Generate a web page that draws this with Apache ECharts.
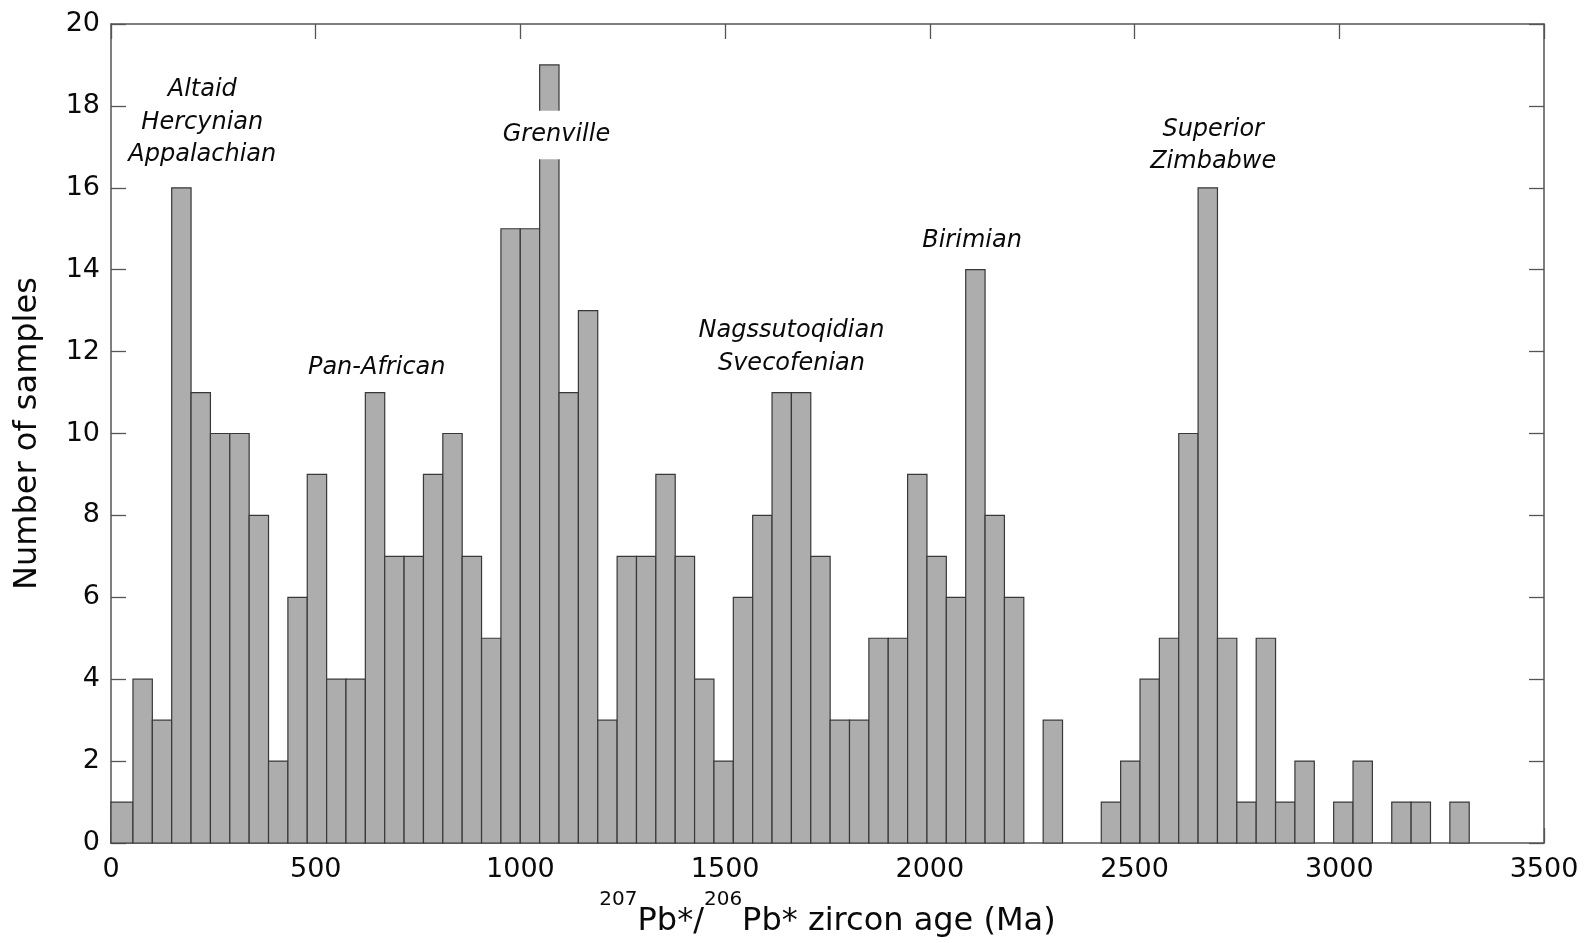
<!DOCTYPE html>
<html>
<head>
<meta charset="utf-8">
<script src="https://cdn.jsdelivr.net/npm/echarts@6/dist/echarts.min.js"></script>
<style>
html,body{margin:0;padding:0;background:#fff;}
#c{width:1587px;height:943px;}
</style>
</head>
<body>
<div id="c"></div>
<script>
// Histogram counts, one per age bin (left to right)
const counts = [
  1, 4, 3, 16, 11, 10, 10, 8, 2, 6,
  9, 4, 4, 11, 7, 7, 9, 10, 7, 5,
  15, 15, 19, 11, 13, 3, 7, 7, 9, 7,
  4, 2, 6, 8, 11, 11, 7, 3, 3, 5,
  5, 9, 7, 6, 14, 8, 6, 0, 3, 0,
  0, 1, 2, 4, 5, 10, 16, 5, 1, 5,
  1, 2, 0, 1, 2, 0, 1, 1, 0, 1
];
// Bin layout (Ma)
const BIN_START = 6.35;
const BIN_WIDTH = 47.3;
const X_MIN = 0, X_MAX = 3500, X_STEP = 500;
const Y_MIN = 0, Y_MAX = 20, Y_STEP = 2;

// Orogeny annotations (data coordinates: age in Ma, count)
const annoText = [
  'Altaid\nHercynian\nAppalachian',
  'Pan-African',
  'Grenville',
  'Nagssutoqidian\nSvecofenian',
  'Birimian',
  'Superior\nZimbabwe'
];
const annoX = [223, 649, 1088, 1662, 2103, 2692];
const annoY = [17.59, 11.61, 17.29, 12.10, 14.70, 17.03];

const FONT = 'DejaVu Sans';
const AXIS_COLOR = '#555555';
const TEXT_COLOR = '#0a0a0a';

const barData = counts.map((c, i) => [
  i === 0 ? X_MIN : BIN_START + i * BIN_WIDTH,
  BIN_START + (i + 1) * BIN_WIDTH,
  c
]).filter(d => d[2] > 0);

const annoData = annoText.map((t, i) => {
  const item = { value: [annoX[i], annoY[i]], label: { formatter: t } };
  if (t === 'Grenville') {
    item.label.backgroundColor = '#ffffff';
    item.label.padding = [8, 4, 8, 4];
  }
  return item;
});

const axisLineStyle = { color: AXIS_COLOR, width: 1.5 };
const tickStyle = { show: true, inside: true, length: 15, lineStyle: { color: AXIS_COLOR, width: 1.3 } };
const plainNum = v => String(v);

const chart = echarts.init(document.getElementById('c'), null, { renderer: 'canvas' });
chart.setOption({
  backgroundColor: '#ffffff',
  animation: false,
  grid: { left: 111, top: 24, width: 1433, height: 820 },
  xAxis: [
    {
      type: 'value', position: 'bottom', min: X_MIN, max: X_MAX, interval: X_STEP,
      axisLine: { show: true, onZero: false, lineStyle: axisLineStyle },
      axisTick: tickStyle,
      splitLine: { show: false },
      axisLabel: { fontFamily: FONT, fontSize: 27, color: TEXT_COLOR, margin: 13, formatter: plainNum },
      name: '{sup|207}{n|Pb*/}{sup|206}{n|Pb* zircon age (Ma)}',
      nameLocation: 'middle',
      nameGap: 47,
      nameTextStyle: {
        fontFamily: FONT, fontSize: 32, color: TEXT_COLOR,
        rich: {
          n: { fontFamily: FONT, fontSize: 32, color: TEXT_COLOR },
          sup: { fontFamily: FONT, fontSize: 20, color: TEXT_COLOR, padding: [0, 0, 44, 0] }
        }
      }
    },
    {
      type: 'value', position: 'top', min: X_MIN, max: X_MAX, interval: X_STEP,
      axisLine: { show: true, onZero: false, lineStyle: axisLineStyle },
      axisTick: tickStyle,
      splitLine: { show: false },
      axisLabel: { show: false }
    }
  ],
  yAxis: [
    {
      type: 'value', position: 'left', min: Y_MIN, max: Y_MAX, interval: Y_STEP,
      axisLine: { show: true, onZero: false, lineStyle: axisLineStyle },
      axisTick: tickStyle,
      splitLine: { show: false },
      axisLabel: { fontFamily: FONT, fontSize: 27, color: TEXT_COLOR, margin: 11, formatter: plainNum },
      name: 'Number of samples',
      nameLocation: 'middle',
      nameGap: 67,
      nameTextStyle: { fontFamily: FONT, fontSize: 32, color: TEXT_COLOR }
    },
    {
      type: 'value', position: 'right', min: Y_MIN, max: Y_MAX, interval: Y_STEP,
      axisLine: { show: true, onZero: false, lineStyle: axisLineStyle },
      axisTick: tickStyle,
      splitLine: { show: false },
      axisLabel: { show: false }
    }
  ],
  series: [
    {
      type: 'custom',
      name: 'samples',
      xAxisIndex: 0, yAxisIndex: 0,
      z: 2,
      data: barData,
      encode: { x: [0, 1], y: 2 },
      renderItem: function (params, api) {
        const p0 = api.coord([api.value(0), api.value(2)]);
        const p1 = api.coord([api.value(1), 0]);
        return {
          type: 'rect',
          shape: { x: p0[0], y: p0[1], width: p1[0] - p0[0], height: p1[1] - p0[1] },
          style: { fill: '#adadad', stroke: '#383838', lineWidth: 1.2 }
        };
      }
    },
    {
      type: 'scatter',
      name: 'annotations',
      xAxisIndex: 0, yAxisIndex: 0,
      z: 10,
      silent: true,
      symbol: 'circle',
      symbolSize: 1,
      itemStyle: { color: 'rgba(0,0,0,0)', opacity: 1 },
      label: {
        show: true, position: 'inside',
        fontFamily: FONT, fontStyle: 'italic', fontSize: 24, lineHeight: 32.5,
        color: TEXT_COLOR, opacity: 1, align: 'center', verticalAlign: 'middle'
      },
      data: annoData
    }
  ]
});
</script>
</body>
</html>
